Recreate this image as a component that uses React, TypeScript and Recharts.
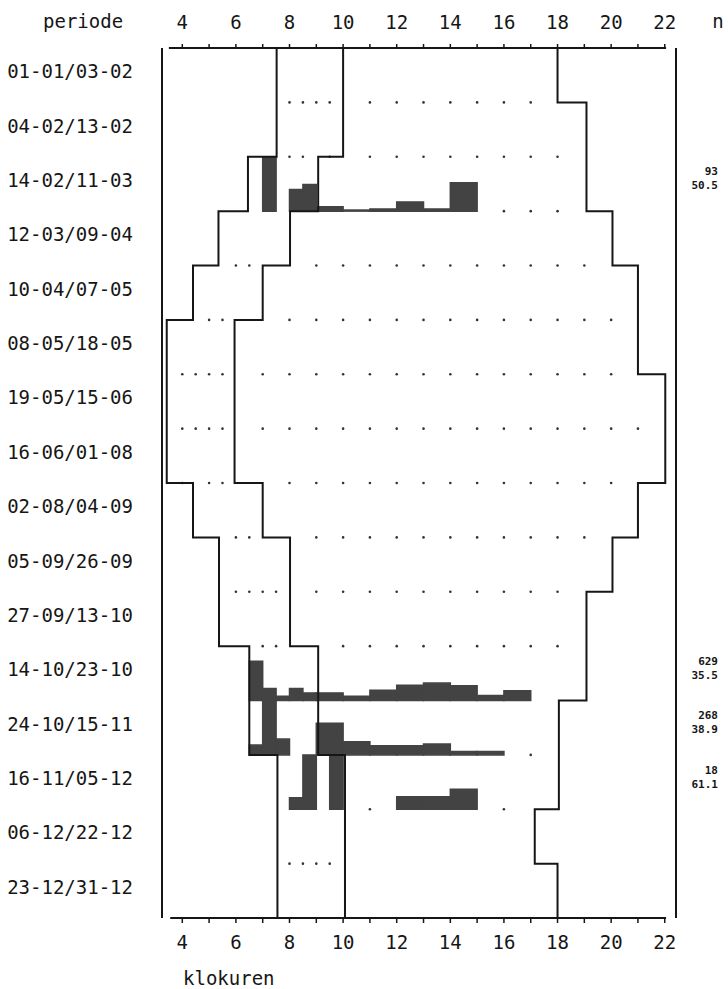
import { ComposedChart, XAxis, YAxis, Scatter, ReferenceArea, ReferenceLine } from 'recharts';

const FONT = "'DejaVu Sans Mono', monospace";
const INK = '#161616';
const BAR = '#434343';

const PERIODS = [
  '01-01/03-02', '04-02/13-02', '14-02/11-03', '12-03/09-04',
  '10-04/07-05', '08-05/18-05', '19-05/15-06', '16-06/01-08',
  '02-08/04-09', '05-09/26-09', '27-09/13-10', '14-10/23-10',
  '24-10/15-11', '16-11/05-12', '06-12/22-12', '23-12/31-12',
];

const HOUR_TICKS = [4, 5, 6, 7, 8, 9, 10, 11, 12, 13, 14, 15, 16, 17, 18, 19, 20, 21, 22];
const ROW_EDGES = [0, 1, 2, 3, 4, 5, 6, 7, 8, 9, 10, 11, 12, 13, 14, 15, 16];
const ROW_MIDS = [0.5, 1.5, 2.5, 3.5, 4.5, 5.5, 6.5, 7.5, 8.5, 9.5, 10.5, 11.5, 12.5, 13.5, 14.5, 15.5];

const X_MIN = 3.243;
const X_MAX = 22.42;

// stepped lines, one hour value per period
const DAWN_OUTER = [7.52, 7.52, 6.45, 5.35, 4.4, 3.42, 3.42, 3.42, 4.4, 5.37, 5.37, 6.5, 6.5, 7.55, 7.55, 7.55];
const DAWN_INNER = [10.0, 10.0, 9.07, 8.02, 7.0, 5.95, 5.95, 5.95, 7.0, 8.02, 8.02, 9.07, 9.07, 10.07, 10.07, 10.07];
const DUSK = [18.0, 19.08, 19.08, 20.05, 21.0, 21.0, 22.02, 22.02, 21.0, 20.05, 19.08, 19.08, 18.05, 18.05, 17.15, 18.0];

// sampled hours without catch, per row boundary
const ZERO_MARKS: number[][] = [
  [],
  [8, 8.5, 9, 9.5, 11, 12, 13, 14, 15, 16, 17],
  [8, 8.5, 9.5, 11, 12, 13, 14, 15, 16, 17, 18],
  [16, 17, 18],
  [6, 6.5, 9, 10, 11, 12, 13, 14, 15, 16, 17, 18, 19],
  [5, 5.5, 8, 9, 10, 11, 12, 13, 14, 15, 16, 17, 18, 19, 20],
  [4, 4.5, 5, 5.5, 7, 8, 9, 10, 11, 12, 13, 14, 15, 16, 17, 18, 19, 20],
  [4, 4.5, 5, 5.5, 7, 8, 9, 10, 11, 12, 13, 14, 15, 16, 17, 18, 19, 20, 21],
  [4, 5, 5.5, 8, 9, 10, 11, 12, 13, 14, 15, 16, 17, 18, 19, 20],
  [6, 6.5, 9, 10, 11, 12, 13, 14, 15, 16, 17, 18, 19],
  [6, 6.5, 7, 7.5, 9, 10, 11, 12, 13, 14, 15, 16, 17, 18],
  [7, 7.5, 10, 11, 12, 13, 14, 15, 16, 17, 18],
  [],
  [17],
  [11, 16],
  [8, 8.5, 9, 9.5],
];

// histograms: [from, to, % of row height]
const HIST_FEB: [number, number, number][] = [
  [7, 7.5, 100], [8, 8.5, 40], [8.5, 9, 49], [9, 10, 8], [10, 11, 2],
  [11, 12, 4], [12, 13, 17], [13, 14, 4], [14, 15, 52],
];
const HIST_OCT1: [number, number, number][] = [
  [6.5, 7, 72], [7, 7.5, 22], [7.5, 8, 8], [8, 8.5, 22], [8.5, 9, 14], [9, 10, 14],
  [10, 11, 8], [11, 12, 19], [12, 13, 28], [13, 14, 32], [14, 15, 27], [15, 16, 9], [16, 17, 18],
];
const HIST_OCT2: [number, number, number][] = [
  [6.5, 7, 18], [7, 7.5, 100], [7.5, 8, 29], [9, 10, 58], [10, 11, 24],
  [11, 12, 17], [12, 13, 17], [13, 14, 20], [14, 15, 6], [15, 16, 6],
];
const HIST_NOV: [number, number, number][] = [
  [8, 8.5, 21], [8.5, 9, 100], [9.5, 10, 100], [12, 13, 23], [13, 14, 23], [14, 15, 37],
];
const HIST_ROWS = [
  { row: 2, bins: HIST_FEB },
  { row: 11, bins: HIST_OCT1 },
  { row: 12, bins: HIST_OCT2 },
  { row: 13, bins: HIST_NOV },
];

const N_ROWS = [2, 11, 12, 13];
const N_COUNTS = ['93', '629', '268', '18'];
const N_MEANS = ['50.5', '35.5', '38.9', '61.1'];

const stepPoints = (vals: number[]) =>
  vals.flatMap((v, i) => [{ x: v, y: i }, { x: v, y: i + 1 }]);

const zeroPoints = ZERO_MARKS.flatMap((hours, k) => hours.map((h) => ({ x: h, y: k })));

const evenOnly = (h: number) => (h % 2 === 0 ? String(h) : '');

function PeriodTick({ x, y, payload }: any) {
  const i = Math.floor(payload.value);
  return (
    <text x={x} y={y - 4} textAnchor="end" dominantBaseline="central" fontFamily={FONT} fontSize={19} fill={INK}>
      {PERIODS[i]}
    </text>
  );
}

function NTick({ x, y, payload }: any) {
  const i = N_ROWS.indexOf(Math.floor(payload.value));
  if (i < 0) return <g />;
  return (
    <g fontFamily={FONT} fontSize={11} fontWeight="bold" fill={INK}>
      <text x={x + 32} y={y - 12} textAnchor="end" dominantBaseline="central">{N_COUNTS[i]}</text>
      <text x={x + 32} y={y + 2} textAnchor="end" dominantBaseline="central">{N_MEANS[i]}</text>
    </g>
  );
}

const noShape = () => <g />;
const dotShape = (p: any) => <circle cx={p.cx} cy={p.cy} r={1.3} fill="#333" />;
const lineStyle = { stroke: INK, strokeWidth: 2 };

export default function App() {
  return (
    <div style={{ width: 728, height: 989, background: '#fff', fontFamily: FONT }}>
      <style>{'body{margin:0}'}</style>
      <ComposedChart width={728} height={989} margin={{ top: 0, right: 0, bottom: 0, left: 0 }}>
        <XAxis
          xAxisId="top"
          orientation="top"
          type="number"
          dataKey="x"
          domain={[X_MIN, X_MAX]}
          allowDataOverflow
          ticks={HOUR_TICKS}
          interval={0}
          tickFormatter={evenOnly}
          height={48}
          axisLine={false}
          tickSize={4}
          tickMargin={15}
          tickLine={{ stroke: INK, strokeWidth: 1.5 }}
          tick={{ fill: INK, fontSize: 19, fontFamily: FONT }}
        />
        <XAxis
          xAxisId="bottom"
          orientation="bottom"
          type="number"
          dataKey="x"
          domain={[X_MIN, X_MAX]}
          allowDataOverflow
          ticks={HOUR_TICKS}
          interval={0}
          tickFormatter={evenOnly}
          height={71}
          axisLine={false}
          tickSize={5}
          tickMargin={13}
          tickLine={{ stroke: INK, strokeWidth: 1.5 }}
          tick={{ fill: INK, fontSize: 19, fontFamily: FONT }}
          label={{
            content: () => (
              <text x={183} y={985} fontFamily={FONT} fontSize={19} fill={INK}>klokuren</text>
            ),
          }}
        />
        <YAxis
          yAxisId="edgeL"
          orientation="left"
          type="number"
          dataKey="y"
          domain={[0, 16]}
          reversed
          allowDataOverflow
          ticks={ROW_EDGES}
          interval={0}
          width={10}
          tick={false}
          tickSize={6}
          axisLine={{ stroke: INK, strokeWidth: 2 }}
          tickLine={{ stroke: INK, strokeWidth: 1.5 }}
        />
        <YAxis
          yAxisId="labels"
          orientation="left"
          type="number"
          domain={[0, 16]}
          reversed
          allowDataOverflow
          ticks={ROW_MIDS}
          interval={0}
          width={152}
          tick={(p: any) => <PeriodTick {...p} />}
          tickLine={false}
          axisLine={false}
          tickSize={0}
          tickMargin={19}
          label={{
            content: () => (
              <text x={43} y={28} fontFamily={FONT} fontSize={19} fill={INK}>periode</text>
            ),
          }}
        />
        <YAxis
          yAxisId="edgeR"
          orientation="right"
          type="number"
          domain={[0, 16]}
          reversed
          allowDataOverflow
          ticks={ROW_EDGES}
          interval={0}
          width={10}
          tick={false}
          tickSize={6}
          axisLine={{ stroke: INK, strokeWidth: 2 }}
          tickLine={{ stroke: INK, strokeWidth: 1.5 }}
        />
        <YAxis
          yAxisId="n"
          orientation="right"
          type="number"
          domain={[0, 16]}
          reversed
          allowDataOverflow
          ticks={N_ROWS.map((r) => r + 0.5)}
          interval={0}
          width={42}
          tick={(p: any) => <NTick {...p} />}
          tickLine={false}
          axisLine={false}
          tickSize={0}
          tickMargin={0}
          label={{
            content: () => (
              <text x={718} y={28} textAnchor="middle" fontFamily={FONT} fontSize={19} fill={INK}>n</text>
            ),
          }}
        />

        <ReferenceLine
          xAxisId="top"
          yAxisId="edgeL"
          segment={[{ x: 3.5, y: 0 }, { x: 22.05, y: 0 }]}
          stroke={INK}
          strokeWidth={2}
        />
        <ReferenceLine
          xAxisId="bottom"
          yAxisId="edgeL"
          segment={[{ x: 3.55, y: 16 }, { x: 22.05, y: 16 }]}
          stroke={INK}
          strokeWidth={2}
        />

        <Scatter
          xAxisId="bottom"
          yAxisId="edgeL"
          data={zeroPoints}
          shape={dotShape}
          isAnimationActive={false}
        />
        <Scatter
          xAxisId="bottom"
          yAxisId="edgeL"
          data={stepPoints(DAWN_OUTER)}
          line={lineStyle}
          lineType="joint"
          shape={noShape}
          isAnimationActive={false}
        />
        <Scatter
          xAxisId="bottom"
          yAxisId="edgeL"
          data={stepPoints(DAWN_INNER)}
          line={lineStyle}
          lineType="joint"
          shape={noShape}
          isAnimationActive={false}
        />
        <Scatter
          xAxisId="bottom"
          yAxisId="edgeL"
          data={stepPoints(DUSK)}
          line={lineStyle}
          lineType="joint"
          shape={noShape}
          isAnimationActive={false}
        />

        {HIST_ROWS.map(({ row, bins }) =>
          bins.map(([from, to, pct], j) => (
            <ReferenceArea
              key={`${row}-${j}`}
              xAxisId="bottom"
              yAxisId="edgeL"
              x1={from}
              x2={to}
              y1={row + 1}
              y2={row + 1 - pct / 100}
              fill={BAR}
              fillOpacity={1}
              stroke={BAR}
              strokeWidth={1.5}
              ifOverflow="visible"
            />
          ))
        )}
      </ComposedChart>
    </div>
  );
}
